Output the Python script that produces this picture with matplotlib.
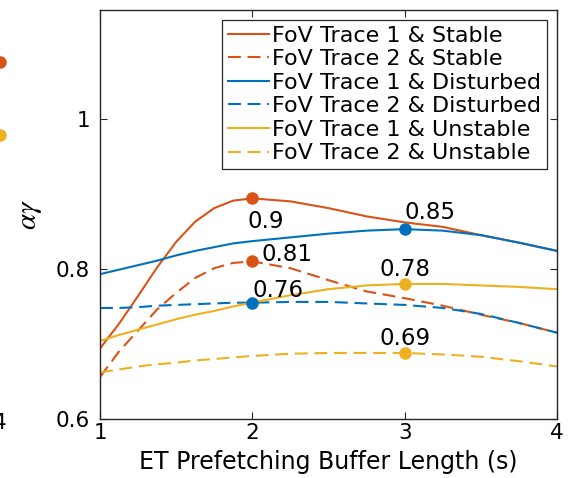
import matplotlib
matplotlib.use('Agg')
import matplotlib.pyplot as plt

# buffer length (s) where each curve was read
x = [1.0, 1.125, 1.25, 1.375, 1.5, 1.625, 1.75, 1.875, 2.0,
     2.25, 2.5, 2.75, 3.0, 3.25, 3.5, 3.75, 4.0]

# alpha*gamma
tr1_stable    = [0.694, 0.727, 0.764, 0.802, 0.836, 0.863, 0.881, 0.891, 0.894,
                 0.890, 0.881, 0.870, 0.862, 0.856, 0.845, 0.835, 0.824]
tr2_stable    = [0.656, 0.690, 0.718, 0.746, 0.768, 0.788, 0.801, 0.808, 0.810,
                 0.801, 0.785, 0.770, 0.761, 0.751, 0.739, 0.728, 0.715]
tr1_disturbed = [0.793, 0.799, 0.805, 0.811, 0.818, 0.824, 0.829, 0.834, 0.837,
                 0.842, 0.847, 0.851, 0.853, 0.851, 0.845, 0.835, 0.824]
tr2_disturbed = [0.748, 0.748, 0.749, 0.751, 0.752, 0.753, 0.754, 0.755, 0.755,
                 0.756, 0.756, 0.754, 0.752, 0.748, 0.740, 0.728, 0.715]
tr1_unstable  = [0.704, 0.712, 0.719, 0.726, 0.733, 0.739, 0.744, 0.750, 0.755,
                 0.765, 0.773, 0.778, 0.780, 0.780, 0.778, 0.776, 0.773]
tr2_unstable  = [0.662, 0.666, 0.670, 0.673, 0.675, 0.678, 0.680, 0.682, 0.684,
                 0.687, 0.688, 0.688, 0.688, 0.686, 0.683, 0.677, 0.670]

labels = ['FoV Trace 1 & Stable', 'FoV Trace 2 & Stable',
          'FoV Trace 1 & Disturbed', 'FoV Trace 2 & Disturbed',
          'FoV Trace 1 & Unstable', 'FoV Trace 2 & Unstable']

# highlighted points: (series index, index in x, text)
marks = [(0, 8, '0.9'), (1, 8, '0.81'), (2, 12, '0.85'),
         (3, 8, '0.76'), (4, 12, '0.78'), (5, 12, '0.69')]

# neighbouring subplot, only its right edge is visible in the crop
nb_x = [4, 4]
nb_y = [1.076, 0.979]

plt.rcParams['font.family'] = ['DejaVu Sans']
plt.rcParams['mathtext.fontset'] = 'stix'

rojo = '#D95319'
azul = '#0072BD'
amarillo = '#EDB120'
series = [tr1_stable, tr2_stable, tr1_disturbed, tr2_disturbed, tr1_unstable, tr2_unstable]
colores = [rojo, rojo, azul, azul, amarillo, amarillo]
guion = (0, (6.2, 3.2))
estilos = ['-', guion, '-', guion, '-', guion]

fig = plt.figure(figsize=(5.71, 4.78), dpi=100)
ax = fig.add_axes([100 / 571, 59 / 478, 457 / 571, 409 / 478])

for s, c, ls, lab in zip(series, colores, estilos, labels):
    ax.plot(x, s, color=c, linestyle=ls, linewidth=1.5, label=lab)

# markers and value labels (text offsets in data units, baseline anchored)
pos_txt = {'0.9': (-0.035, -0.039, 'left'), '0.81': (0.062, 0.0, 'left'),
           '0.85': (0.0, 0.014, 'left'), '0.76': (0.0, 0.008, 'left'),
           '0.78': (0.0, 0.010, 'center'), '0.69': (0.0, 0.011, 'center')}
for si, pi, txt in marks:
    ax.plot(x[pi], series[si][pi], 'o', color=colores[si], markersize=8, zorder=5)
    dx, dy, ha = pos_txt[txt]
    ax.text(x[pi] + dx, series[si][pi] + dy, txt, fontsize=16.5, ha=ha, va='baseline')

ax.set_xlim(1, 4)
ax.set_ylim(0.6, 1.145)
ax.set_xticks([1, 2, 3, 4])
ax.set_yticks([0.6, 0.8, 1.0])
ax.set_yticklabels(['0.6', '0.8', '1'])
ax.tick_params(direction='in', length=5, width=0.8, top=True, right=True,
               labelsize=15.5, colors='#262626', labelcolor='black')
ax.tick_params(axis='y', pad=7)
ax.tick_params(axis='x', pad=3)
for sp in ax.spines.values():
    sp.set_color('#262626')
    sp.set_linewidth(1.0)

ax.set_xlabel('ET Prefetching Buffer Length (s)', fontsize=17, labelpad=5)
ax.set_ylabel(r'$\alpha\gamma$', fontsize=21, labelpad=9)

leg = ax.legend(loc='upper right', fontsize=16, handlelength=1.85, handletextpad=0.15,
                labelspacing=0.16, borderpad=0.25, borderaxespad=0.45,
                fancybox=False, framealpha=1, edgecolor='#262626')
leg.get_frame().set_linewidth(0.9)

# cut-off neighbour subplot on the left
ax2 = fig.add_axes([-400 / 571, 59 / 478, 400 / 571, 409 / 478])
ax2.plot(nb_x[0], nb_y[0], 'o', color=rojo, markersize=8, clip_on=False)
ax2.plot(nb_x[1], nb_y[1], 'o', color=amarillo, markersize=8, clip_on=False)
ax2.set_xlim(1, 4)
ax2.set_ylim(0.6, 1.145)
ax2.set_xticks([4])
ax2.set_yticks([])
ax2.tick_params(length=0, labelsize=15.5, pad=-4)
for sp in ax2.spines.values():
    sp.set_visible(False)
ax2.patch.set_visible(False)

fig.savefig('out.png', dpi=100)
